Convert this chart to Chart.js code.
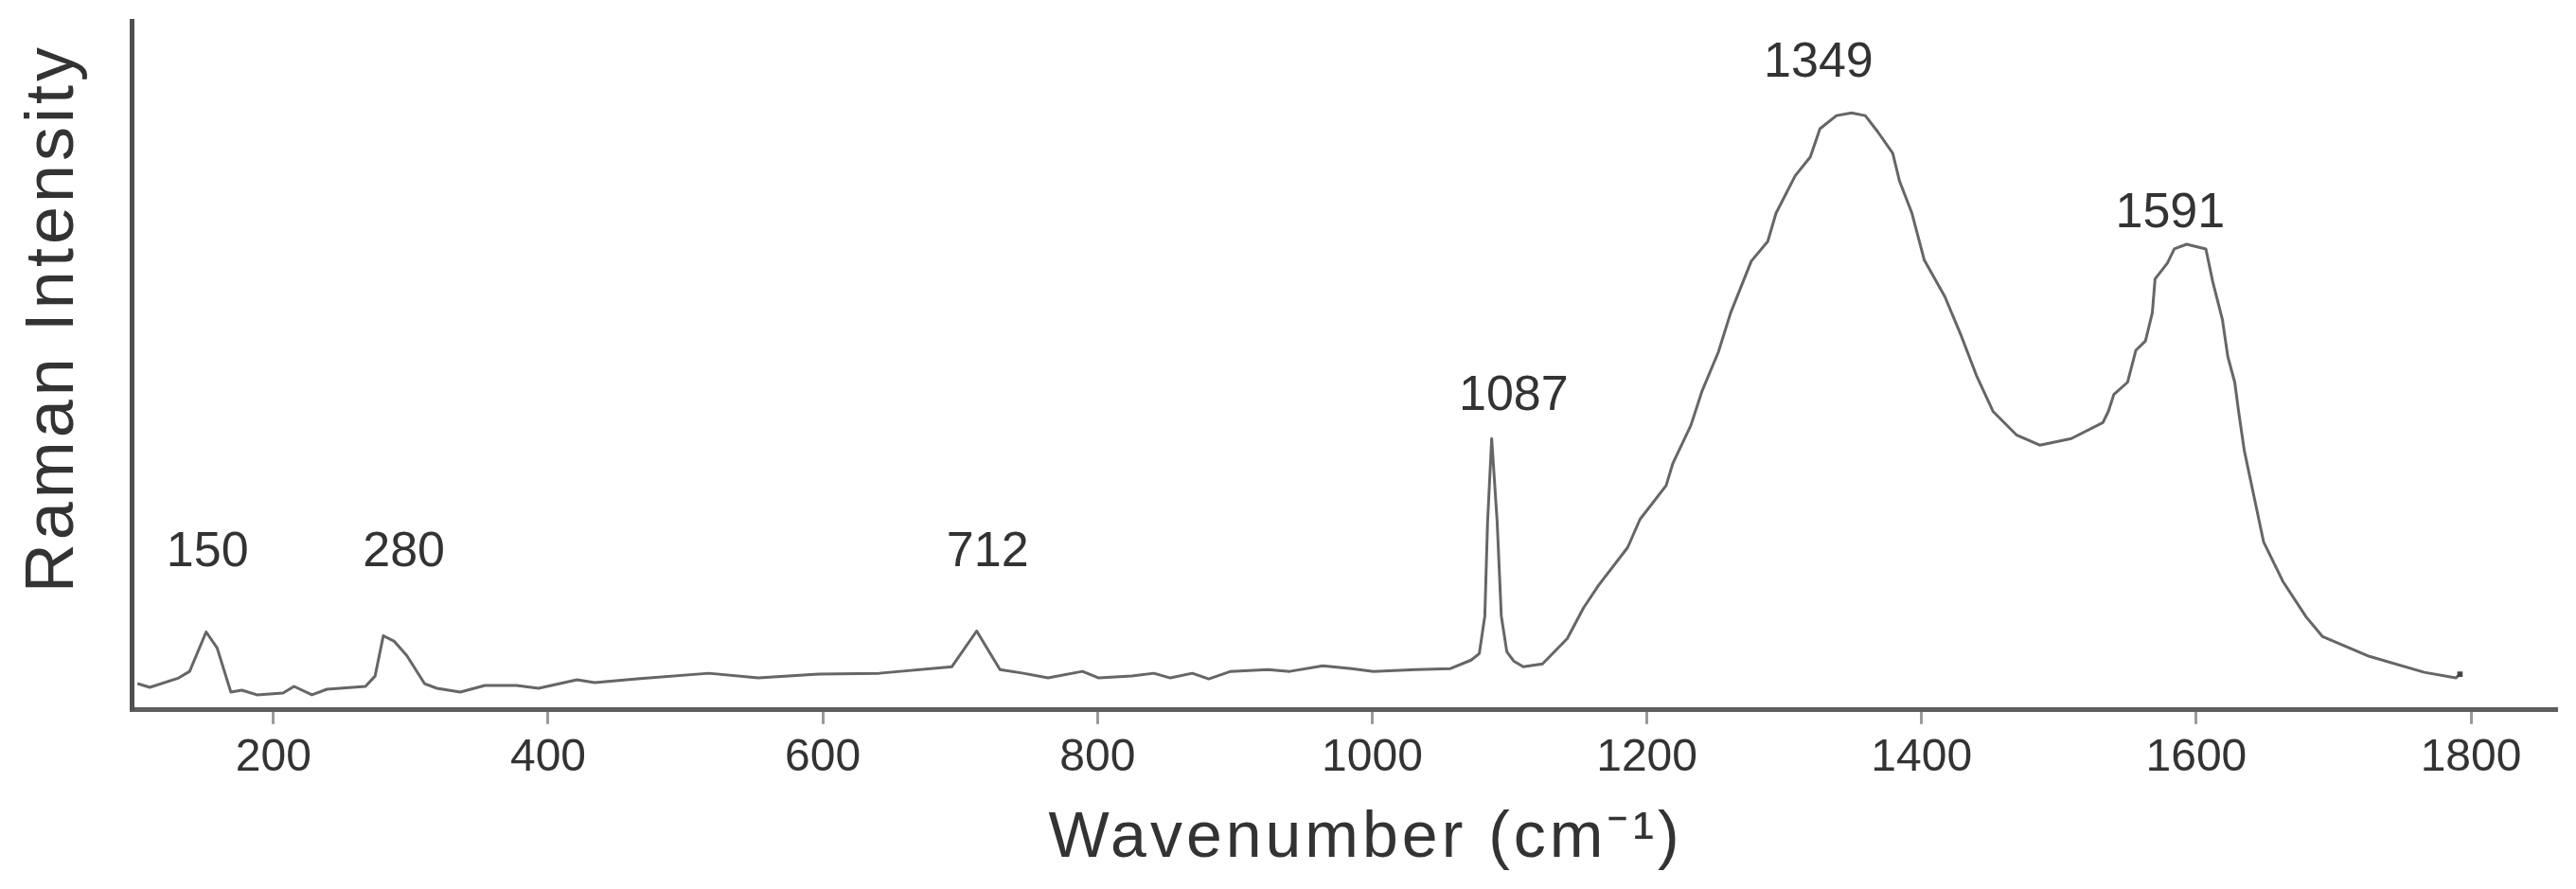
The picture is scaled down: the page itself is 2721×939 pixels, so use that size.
<!DOCTYPE html>
<html>
<head>
<meta charset="utf-8">
<script src="https://cdn.jsdelivr.net/npm/chart.js@4.4.1/dist/chart.umd.min.js"></script>
<style>
  html, body { margin: 0; padding: 0; background: #ffffff; }
  #wrap { width: 2721px; height: 939px; }
</style>
</head>
<body>
<div id="wrap"><canvas id="c" width="2721" height="939"></canvas></div>
<script>
// ---- data ----
const wavenumber = [101,110,131,139,151,159,169,177,188,207,215,228,239,267,274,280,288,297,310,319,336,354,377,393,421,434,465,517,553,597,641,694,712,729,746,764,789,801,825,841,853,869,881,897,924,940,964,985,1001,1032,1057,1072,1078,1082,1084,1087,1091,1094,1098,1103,1110,1124,1142,1154,1165,1186,1195,1214,1219,1232,1240,1252,1261,1276,1288,1294,1308,1319,1326,1338,1349,1359,1368,1379,1384,1393,1402,1417,1429,1440,1452,1469,1486,1509,1532,1536,1540,1550,1556,1563,1568,1570,1579,1584,1593,1607,1612,1619,1623,1628,1631,1635,1649,1663,1680,1692,1726,1766,1789,1792];
const intensity = [28,24,34,41,83,66,19,21,16,18,25,16,22,25,36,79,73,58,28,23,19,26,26,23,32,29,33,39,34,38,39,46,84,43,39,34,41,34,36,39,34,39,33,41,43,41,47,44,41,43,44,53,60,100,200,289,200,100,62,52,46,49,76,109,133,173,203,239,263,303,339,381,423,478,499,529,569,589,619,633,636,633,616,593,563,529,479,440,398,356,318,293,282,289,306,318,336,349,383,393,423,459,476,491,496,491,456,416,376,349,316,276,179,137,99,78,57,40,34,38];
const xTickValues = [200, 400, 600, 800, 1000, 1200, 1400, 1600, 1800];
const peakLabels = ['150', '280', '712', '1087', '1349', '1591'];
const peakLabelX = [152, 295, 720, 1103, 1325, 1581];   // wavenumber where each label sits
const peakLabelY = [153, 153, 153, 319, 674, 514];      // intensity of each label baseline
const xTitle = '\u00A0\u00A0Wavenumber (cm\u207B\u00B9)';
const yTitle = 'Raman Intensity\u00A0';

const points = wavenumber.map((w, i) => ({ x: w, y: intensity[i] }));
const lastIndex = points.length - 1;

const spacingPlugin = {
  id: 'titleSpacing',
  beforeDraw(chart) { chart.ctx.letterSpacing = '4px'; },
  beforeDatasetsDraw(chart) { chart.ctx.letterSpacing = '0px'; }
};

const peakLabelPlugin = {
  id: 'peakLabels',
  afterDatasetsDraw(chart) {
    const ctx = chart.ctx;
    const xs = chart.scales.x, ys = chart.scales.y;
    ctx.save();
    ctx.letterSpacing = '0px';
    ctx.font = '52px "Liberation Sans", Arial, sans-serif';
    ctx.fillStyle = '#333333';
    ctx.textAlign = 'center';
    ctx.textBaseline = 'alphabetic';
    peakLabels.forEach((t, i) => {
      ctx.fillText(t, xs.getPixelForValue(peakLabelX[i]), ys.getPixelForValue(peakLabelY[i]));
    });
    ctx.restore();
  }
};

new Chart(document.getElementById('c'), {
  type: 'line',
  data: {
    datasets: [{
      data: points,
      borderColor: '#666666',
      borderWidth: 3,
      backgroundColor: '#444444',
      fill: false,
      tension: 0,
      borderJoinStyle: 'round',
      pointRadius: ctx => ctx.dataIndex === lastIndex ? 4 : 0,
      pointStyle: 'rect',
      pointBorderWidth: 0
    }]
  },
  options: {
    responsive: false,
    devicePixelRatio: 1,
    animation: false,
    layout: { padding: { top: 22, right: 21, bottom: 0, left: 0 } },
    plugins: {
      legend: { display: false },
      tooltip: { enabled: false },
      title: { display: false }
    },
    scales: {
      x: {
        type: 'linear',
        min: 97,
        max: 1862,
        afterBuildTicks: axis => { axis.ticks = xTickValues.map(v => ({ value: v })); },
        grid: {
          display: true,
          drawOnChartArea: false,
          drawTicks: true,
          tickLength: 15,
          color: '#9a9a9a',
          lineWidth: 3
        },
        border: { display: true, color: '#5e5e5e', width: 5 },
        ticks: {
          z: 1,
          padding: 7,
          color: '#333333',
          maxRotation: 0,
          autoSkip: false,
          font: { family: '"Liberation Sans", Arial, sans-serif', size: 48 },
          callback: v => String(v)
        },
        title: {
          display: true,
          text: xTitle,
          color: '#333333',
          font: { family: '"Liberation Sans", Arial, sans-serif', size: 68 },
          padding: { top: 9, bottom: 12 }
        }
      },
      y: {
        type: 'linear',
        min: 0,
        max: 734,
        grid: { display: false, drawTicks: false, tickLength: 0 },
        border: { display: true, color: '#505050', width: 5 },
        ticks: { display: false },
        title: {
          display: true,
          text: yTitle,
          align: 'end',
          color: '#333333',
          font: { family: '"Liberation Sans", Arial, sans-serif', size: 72 },
          padding: { top: 14, bottom: 39 }
        }
      }
    }
  },
  plugins: [spacingPlugin, peakLabelPlugin]
});
</script>
</body>
</html>
